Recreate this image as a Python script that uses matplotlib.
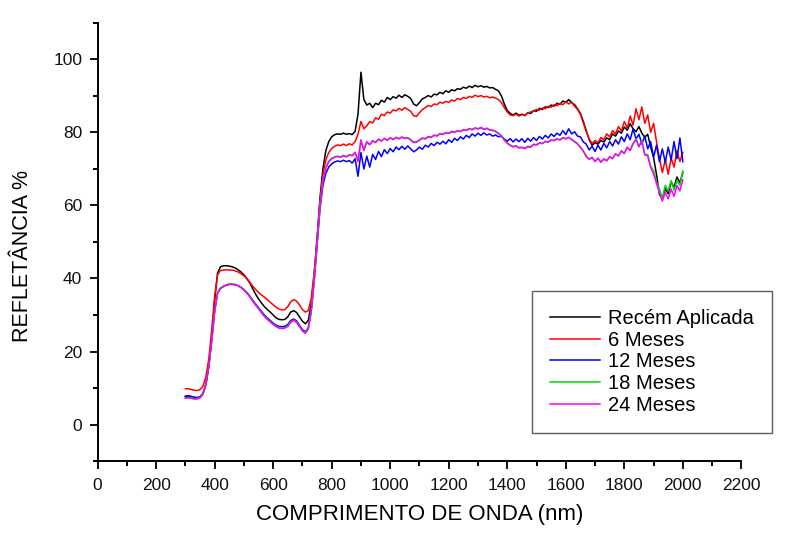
import numpy as np
import matplotlib
matplotlib.use('Agg')
import matplotlib.pyplot as plt
from matplotlib.ticker import MultipleLocator

plt.rcParams['font.family'] = ['Liberation Sans', 'DejaVu Sans']

# wavelength grid (nm), one reading every 10 nm from 300 to 2000
wavelength = np.arange(300, 2001, 10)

recem_aplicada = [
    7.6, 7.7, 7.6, 7.4, 7.3, 7.5, 8.5, 11.0, 16.0, 24.0,
    34.0, 41.5, 43.2, 43.5, 43.5, 43.4, 43.2, 42.9, 42.4, 41.8,
    41.0, 40.0, 38.8, 37.2, 35.7, 34.4, 33.3, 32.3, 31.5, 30.8,
    30.0, 29.2, 28.8, 28.7, 28.8, 29.5, 30.8, 31.2, 30.7, 29.5,
    28.3, 27.6, 28.5, 33.0, 41.0, 51.0, 62.0, 70.0, 75.0, 77.5,
    78.8, 79.4, 79.6, 79.5, 79.8, 79.5, 79.7, 79.4, 80.3, 85.0,
    96.5, 89.0, 87.5, 88.0, 86.8, 88.0, 87.6, 88.8, 88.3, 89.6,
    89.0, 89.8, 89.4, 90.2, 89.6, 90.3, 89.9, 89.3, 87.8, 87.3,
    88.2, 89.2, 89.6, 90.1, 89.7, 90.5, 90.3, 91.0, 90.6, 91.4,
    91.0, 91.7, 91.4, 92.0, 91.8, 92.4, 92.1, 92.7, 92.3, 92.9,
    92.5, 92.8, 92.4, 92.6, 92.2, 92.3, 91.8, 91.4, 90.0, 87.8,
    86.0, 85.2, 84.8, 85.3, 84.7, 85.0, 84.6, 85.4, 85.2, 86.0,
    85.8, 86.6, 86.3, 87.0, 86.8, 87.5, 87.2, 88.0, 87.7, 88.6,
    88.3, 89.0, 88.2, 87.6, 86.5, 85.2, 83.0, 80.5, 78.0, 76.5,
    77.2, 76.8, 77.8, 77.4, 78.5, 78.0, 79.6, 79.0, 80.4, 79.8,
    81.5, 80.6, 82.4, 81.0, 80.2, 81.6, 79.8, 78.7, 79.5, 76.0,
    73.2, 68.5, 63.0, 61.8, 64.6, 63.2, 66.5, 65.0, 67.8, 66.2,
    69.0,
]

meses_6 = [
    9.8, 9.8, 9.6, 9.4, 9.3, 9.6, 10.5, 13.0, 18.0, 26.0,
    35.0, 41.0, 42.2, 42.3, 42.4, 42.3, 42.3, 42.1, 41.8, 41.3,
    40.7, 40.0, 39.0, 37.9, 37.0, 36.2, 35.5, 34.9, 34.2, 33.5,
    32.8, 32.1, 31.6, 31.4, 31.5, 32.3, 33.6, 34.2, 33.8, 32.8,
    31.5, 30.8, 31.2, 34.5, 41.5, 50.5, 61.0, 68.5, 72.5, 74.5,
    75.6, 76.2, 76.6, 76.4, 76.8, 76.4, 76.9, 76.6, 77.5, 79.5,
    83.0, 81.0, 81.8, 83.0, 82.6, 84.0, 83.6, 85.0, 84.6, 85.6,
    85.3, 86.2, 85.9, 86.6, 86.1, 86.8, 86.3, 85.8, 84.6, 84.4,
    85.4, 86.3, 86.8, 87.4, 87.1, 87.8, 87.6, 88.3, 88.0, 88.5,
    88.2, 88.9, 88.6, 89.3, 89.0, 89.6, 89.3, 89.9, 89.6, 90.2,
    89.8, 90.1, 89.7, 89.9, 89.5, 89.7, 89.4, 89.0, 88.2, 86.8,
    85.6, 84.8, 84.6, 85.0, 84.5, 84.9, 84.7, 85.3, 85.6, 85.9,
    86.3, 86.1, 86.7, 86.5, 87.2, 86.9, 87.6, 87.3, 88.0, 87.6,
    88.4, 87.8, 88.3, 87.2, 86.3, 85.0, 82.6, 80.2, 78.2, 77.0,
    77.8, 77.2, 78.6, 78.0, 79.6, 78.8, 80.5, 79.6, 81.6, 80.4,
    83.0, 81.2, 84.5, 82.0, 86.5, 83.5, 87.0, 82.5, 84.8, 80.0,
    82.5, 77.5, 73.0, 69.0, 72.5, 68.5, 73.0, 70.5, 75.0, 72.0,
    74.5,
]

meses_12 = [
    7.8, 7.9, 7.7, 7.5, 7.4, 7.6, 8.5, 11.0, 16.0, 23.0,
    31.0, 36.0, 37.3, 37.8, 38.2, 38.4, 38.4, 38.3, 38.0, 37.6,
    37.0, 36.2, 35.2, 34.1, 33.0, 32.0, 31.0, 30.0, 29.2, 28.5,
    27.8, 27.2, 26.9, 26.8, 26.9, 27.4, 28.5, 28.9, 28.4, 27.2,
    26.0, 25.4, 26.5, 31.0, 39.0, 49.0, 59.0, 65.5, 68.8, 70.5,
    71.4, 71.9, 72.2, 72.0, 72.4, 72.0, 72.3, 71.6, 72.8, 68.0,
    74.5, 70.0, 73.5, 70.5, 74.0, 72.6, 74.8, 73.4, 75.3, 74.2,
    75.6, 74.7, 76.0, 75.3, 76.2, 75.4, 76.3, 75.5, 74.7, 75.2,
    76.0, 75.4, 76.5, 76.0, 77.0, 76.4, 77.3, 76.8, 77.6, 76.9,
    78.0, 77.3, 78.4, 77.8, 78.8, 78.2, 79.2, 78.6, 79.6, 79.0,
    79.8, 79.2, 79.9, 79.3, 79.6, 79.0, 79.3, 78.8, 79.0, 78.2,
    77.6, 78.3, 77.4, 78.2, 77.5, 78.3, 77.3, 78.4, 77.6, 78.6,
    77.8, 78.9, 78.2, 79.2, 78.5, 79.6, 78.9, 79.8, 79.2, 80.5,
    79.4, 81.0, 79.6, 80.2, 79.0, 78.8, 77.4, 76.8, 75.2, 76.2,
    74.8, 76.5, 75.2, 77.0, 75.8, 77.5, 76.3, 78.0, 76.8, 78.8,
    77.5, 79.6, 78.0, 81.0, 78.2, 79.5, 76.8, 79.0, 75.5, 77.5,
    73.2, 76.5, 72.0, 75.5, 71.8, 76.0, 72.5, 77.5, 72.8, 78.5,
    72.0,
]

meses_18 = [
    7.3, 7.4, 7.3, 7.1, 7.1, 7.4, 8.4, 10.9, 15.9, 23.1,
    31.1, 36.1, 37.4, 37.9, 38.3, 38.5, 38.5, 38.4, 38.1, 37.6,
    36.9, 36.1, 35.1, 33.9, 32.8, 31.8, 30.7, 29.7, 28.9, 28.2,
    27.5, 26.9, 26.5, 26.4, 26.5, 27.0, 28.1, 28.6, 28.1, 26.9,
    25.7, 25.1, 26.3, 31.1, 39.6, 49.6, 60.1, 66.9, 70.3, 72.1,
    72.9, 73.3, 73.5, 73.3, 73.7, 73.4, 73.9, 73.7, 74.6, 72.4,
    77.6, 75.3, 77.3, 76.8, 77.6, 77.4, 78.0, 77.8, 78.2, 78.0,
    78.4, 78.2, 78.5, 78.4, 78.6, 78.5, 78.4, 78.1, 77.4, 77.5,
    77.8, 78.3, 78.4, 78.7, 78.8, 79.1, 79.2, 79.5, 79.6, 79.8,
    79.9, 80.1, 80.2, 80.3, 80.4, 80.6, 80.7, 80.9, 80.9, 81.1,
    81.1, 81.2, 81.0, 81.0, 80.8, 80.5, 80.4, 79.6, 79.2, 77.8,
    77.2, 76.4, 76.2, 76.2, 75.9, 75.8, 75.7, 76.0, 76.1, 76.6,
    76.7, 77.0, 77.1, 77.4, 77.5, 77.8, 77.9, 78.1, 78.1, 78.4,
    78.4, 78.5, 78.2, 77.4, 77.0, 75.8, 75.0, 73.3, 72.8, 73.0,
    72.2, 72.8, 72.0, 72.6, 72.4, 73.2, 73.0, 74.0, 73.7, 74.8,
    74.4, 75.8, 75.2, 76.8, 78.3, 76.0, 77.8, 73.8, 74.0, 70.8,
    69.5, 66.4, 64.5, 62.0, 65.5, 64.0, 66.8, 64.2, 66.8, 65.5,
    69.5,
]

meses_24 = [
    7.2, 7.3, 7.2, 7.0, 7.0, 7.3, 8.3, 10.8, 15.8, 23.0,
    31.0, 36.0, 37.3, 37.8, 38.2, 38.4, 38.4, 38.3, 38.0, 37.5,
    36.8, 36.0, 35.0, 33.8, 32.7, 31.7, 30.6, 29.6, 28.8, 28.1,
    27.4, 26.8, 26.4, 26.3, 26.4, 26.9, 28.0, 28.5, 28.0, 26.8,
    25.6, 25.0, 26.2, 31.0, 39.5, 49.5, 60.0, 66.8, 70.2, 72.0,
    72.8, 73.2, 73.4, 73.2, 73.6, 73.3, 73.8, 73.6, 74.5, 72.0,
    78.0, 75.0, 77.5, 76.6, 77.8, 77.2, 78.2, 77.6, 78.4, 77.8,
    78.6, 78.0, 78.7, 78.2, 78.8, 78.3, 78.6, 77.9, 77.2, 77.3,
    78.0, 78.5, 78.2, 78.9, 78.6, 79.3, 79.0, 79.7, 79.4, 80.0,
    79.7, 80.3, 80.0, 80.5, 80.2, 80.8, 80.5, 81.1, 80.7, 81.3,
    80.9, 81.4, 80.8, 81.2, 80.6, 80.7, 80.2, 79.8, 79.0, 78.0,
    77.0, 76.6, 76.0, 76.4, 75.7, 76.0, 75.5, 76.2, 75.9, 76.8,
    76.5, 77.2, 76.9, 77.6, 77.3, 78.0, 77.7, 78.3, 77.9, 78.6,
    78.2, 78.7, 78.0, 77.6, 76.8, 76.0, 74.8, 73.5, 72.6, 73.2,
    72.0, 73.0, 71.8, 72.8, 72.2, 73.4, 72.8, 74.2, 73.5, 75.0,
    74.2, 76.0, 75.0, 77.0, 78.0, 76.2, 77.5, 74.0, 73.5, 70.5,
    68.7, 66.0, 63.5, 61.2, 63.5, 61.8, 64.5, 62.5, 65.5, 64.0,
    67.0,
]

series_labels = ['Recém Aplicada', '6 Meses', '12 Meses', '18 Meses', '24 Meses']
series_values = [recem_aplicada, meses_6, meses_12, meses_18, meses_24]
series_colors = ['#000000', '#ff0000', '#0000ff', '#00dd00', '#ff00ff']

fig = plt.figure(figsize=(7.87, 5.33), dpi=100)
ax = fig.add_axes([0.124, 0.135, 0.818, 0.822])

for label, values, color in zip(series_labels, series_values, series_colors):
    ax.plot(wavelength, values, color=color, lw=1.1, label=label)

ax.set_xlim(0, 2200)
ax.set_ylim(-10, 110)
ax.xaxis.set_major_locator(MultipleLocator(200))
ax.xaxis.set_minor_locator(MultipleLocator(100))
ax.yaxis.set_major_locator(MultipleLocator(20))
ax.yaxis.set_minor_locator(MultipleLocator(10))
ax.set_yticks([0, 20, 40, 60, 80, 100])

for side in ('top', 'right'):
    ax.spines[side].set_visible(False)
for side in ('left', 'bottom'):
    ax.spines[side].set_linewidth(1.4)

ax.tick_params(which='major', direction='out', length=6, width=1.4,
               labelsize=12.5, colors='#111111', pad=5)
ax.tick_params(which='minor', direction='out', length=3.5, width=1.4)
ax.tick_params(axis='x', which='major', pad=6)

ax.set_xlabel('COMPRIMENTO DE ONDA (nm)', fontsize=16, labelpad=8)
ax.set_ylabel('REFLETÂNCIA %', fontsize=15.5)
ax.yaxis.set_label_coords(-0.1, 0.468)

leg = ax.legend(loc='upper left', bbox_to_anchor=(0.676, 0.454),
                bbox_transform=fig.transFigure, fontsize=14.5,
                frameon=True, fancybox=False, borderaxespad=0,
                borderpad=0.9, labelspacing=0.13, handlelength=2.5,
                handletextpad=0.35)
leg.get_frame().set_edgecolor('#333333')
leg.get_frame().set_linewidth(1.0)

fig.savefig('out.png', dpi=100)
